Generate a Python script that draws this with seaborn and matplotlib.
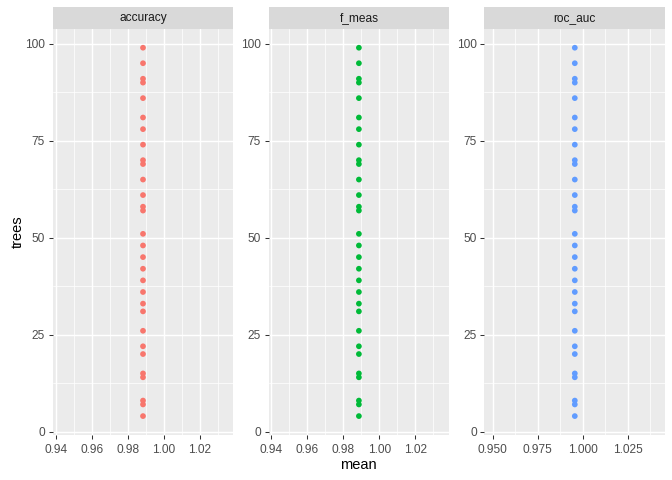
import numpy as np
import pandas as pd
import matplotlib
matplotlib.use("Agg")
import matplotlib.pyplot as plt
import seaborn as sns
from matplotlib.patches import Rectangle
from matplotlib.ticker import FixedLocator, FormatStrFormatter

# ---- data ----
metrics = ["accuracy", "f_meas", "roc_auc"]
trees = [4, 7, 8, 14, 15, 20, 22, 26, 31, 33, 36, 39, 42, 45, 48, 51,
         57, 58, 61, 65, 69, 70, 74, 78, 81, 86, 90, 91, 95, 99]
mean_accuracy = [0.9883] * len(trees)
mean_f_meas = [0.9886] * len(trees)
mean_roc_auc = [0.9956] * len(trees)
colors = ["#F8766D", "#00BA38", "#619CFF"]
xticks = {
    "accuracy": [0.94, 0.96, 0.98, 1.00, 1.02],
    "f_meas": [0.94, 0.96, 0.98, 1.00, 1.02],
    "roc_auc": [0.950, 0.975, 1.000, 1.025],
}
yticks = [0, 25, 50, 75, 100]

df = pd.DataFrame({
    "metric": np.repeat(metrics, len(trees)),
    "trees": trees * 3,
    "mean": mean_accuracy + mean_f_meas + mean_roc_auc,
})

sns.set_style("white")
plt.rcParams["font.family"] = ["Liberation Sans", "DejaVu Sans"]

W, H = 672, 480
fig = plt.figure(figsize=(6.72, 4.8), dpi=100)

panel_w = 180.6
gap = 35.3
left0 = 52.7
top_px = 29.3
bot_px = 434.5
strip_h = 22.0

ylo, yhi = -0.75, 103.75
for i, m in enumerate(metrics):
    lx = left0 + i * (panel_w + gap)
    ax = fig.add_axes([lx / W, 1 - bot_px / H, panel_w / W, (bot_px - top_px) / H])
    ax.set_facecolor("#EBEBEB")
    sub = df[df["metric"] == m]
    sns.scatterplot(data=sub, x="mean", y="trees", color=colors[i], s=17,
                    edgecolor="none", linewidth=0, ax=ax, legend=False, zorder=3)
    c = sub["mean"].mean()
    ax.set_xlim(c - 0.0502, c + 0.0502)
    ax.set_ylim(ylo, yhi)
    xt = xticks[m]
    step = xt[1] - xt[0]
    minor = [xt[0] - step / 2] + [v + step / 2 for v in xt]
    ax.xaxis.set_major_locator(FixedLocator(xt))
    ax.xaxis.set_minor_locator(FixedLocator(minor))
    ax.yaxis.set_major_locator(FixedLocator(yticks))
    ax.yaxis.set_minor_locator(FixedLocator([12.5, 37.5, 62.5, 87.5]))
    ax.xaxis.set_major_formatter(FormatStrFormatter("%.3f" if m == "roc_auc" else "%.2f"))
    ax.grid(which="major", color="white", linewidth=1.02, zorder=0)
    ax.grid(which="minor", color="white", linewidth=0.51, zorder=0)
    ax.set_axisbelow(True)
    for sp in ax.spines.values():
        sp.set_visible(False)
    ax.tick_params(axis="both", which="major", length=2.7, width=0.75,
                   color="#333333", labelcolor="#4D4D4D", labelsize=8.6,
                   bottom=True, left=True)
    ax.tick_params(axis="x", which="major", pad=4.2)
    ax.tick_params(axis="y", which="major", pad=2.8)
    ax.tick_params(axis="both", which="minor", length=0)
    ax.set_xlabel("")
    ax.set_ylabel("")
    # strip
    sh = strip_h / (bot_px - top_px)
    ax.add_patch(Rectangle((0, 1), 1, sh, transform=ax.transAxes,
                           facecolor="#D9D9D9", edgecolor="none", clip_on=False))
    ax.text(0.5, 1 + sh / 2, m, transform=ax.transAxes, ha="center", va="center",
            fontsize=8.6, color="#1A1A1A")

fig.text(358 / W, 1 - 465 / H, "mean", ha="center", va="center", fontsize=10.56, color="black")
fig.text(18 / W, 1 - 232 / H, "trees", ha="center", va="center", rotation=90,
         fontsize=10.56, color="black")

fig.savefig("out.png", dpi=100, facecolor="white")
